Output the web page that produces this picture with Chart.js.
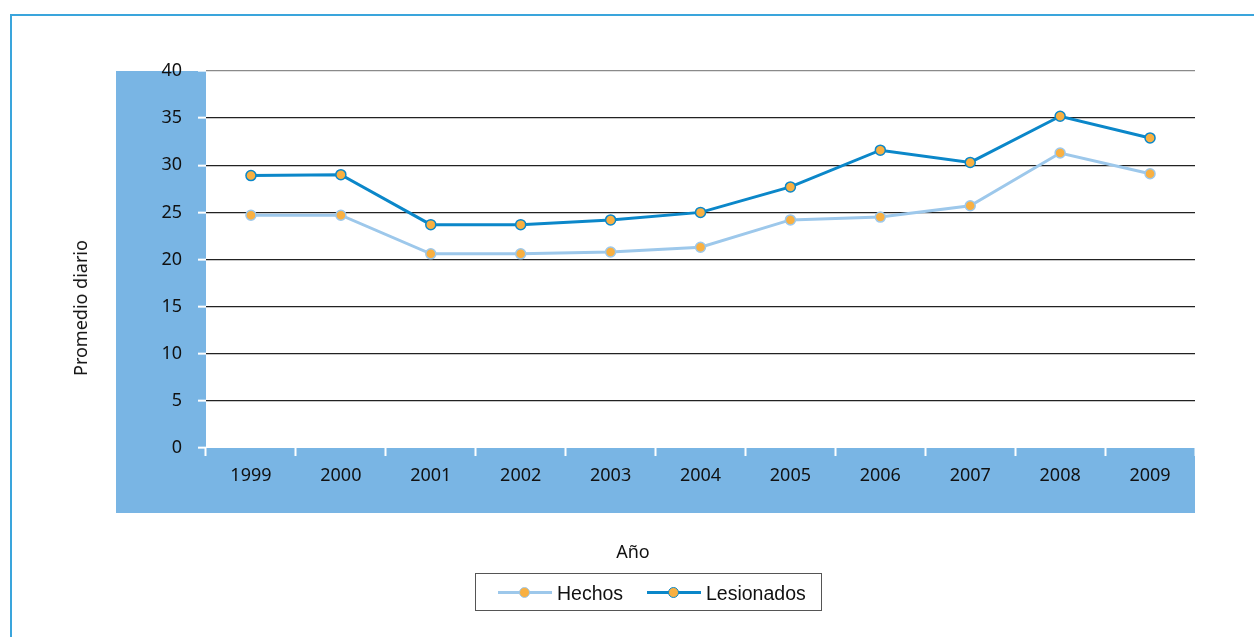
<!DOCTYPE html>
<html>
<head>
<meta charset="utf-8">
<script src="https://cdn.jsdelivr.net/npm/chart.js@4/dist/chart.umd.min.js"></script>
<style>
  body { margin: 0; background: #fff; width: 1254px; height: 637px; overflow: hidden; position: relative; font-family: "Noto Sans", sans-serif; }
  #frame { position: absolute; left: 10px; top: 14px; width: 1400px; height: 800px; border-left: 2px solid #3aa5dc; border-top: 2px solid #3aa5dc; }
  #chartBox { position: absolute; left: 0; top: 0; width: 1254px; height: 637px; }
  .title { position: absolute; color: #111; font-size: 18px; white-space: nowrap; }
  #xTitle { left: 633px; top: 551px; transform: translate(-50%, -50%); }
  #yTitle { left: 80px; top: 308px; transform: translate(-50%, -50%) rotate(-90deg); }
  #legend { position: absolute; left: 475px; top: 573px; width: 345px; height: 36px; border: 1px solid #555; font-family: "Liberation Sans", Arial, sans-serif; font-size: 19.5px; color: #111; }
  .item { position: absolute; top: 0; height: 36px; line-height: 38px; }
  .sym { position: absolute; top: 17px; width: 54px; height: 3px; }
  .dot { position: absolute; left: 21px; top: -4px; width: 9px; height: 9px; border-radius: 50%; background: #f9b041; border: 1px solid; }
  .lab { position: absolute; left: 59px; top: 0; }
</style>
</head>
<body>
<div id="frame"></div>
<div id="chartBox"><canvas id="myChart" width="1254" height="637"></canvas></div>
<div class="title" id="xTitle">Año</div>
<div class="title" id="yTitle">Promedio diario</div>
<div id="legend"></div>
<script>
// data
var years = ["1999", "2000", "2001", "2002", "2003", "2004", "2005", "2006", "2007", "2008", "2009"];
var hechos = [24.7, 24.7, 20.6, 20.6, 20.8, 21.3, 24.2, 24.5, 25.7, 31.3, 29.1];
var lesionados = [28.9, 29.0, 23.7, 23.7, 24.2, 25.0, 27.7, 31.6, 30.3, 35.2, 32.9];
var yTicks = [0, 5, 10, 15, 20, 25, 30, 35, 40];

var hechosColor = "#9dc8eb";
var lesionadosColor = "#0b87c9";
var pointColor = "#f9b041";
var panelColor = "#79b5e4";

Chart.defaults.font.family = '"Noto Sans", sans-serif';

// blue panel behind the axes, white plot area
var panelPlugin = {
  id: "panel",
  beforeDraw: function (chart) {
    var ctx = chart.ctx;
    var a = chart.chartArea;
    ctx.save();
    ctx.fillStyle = panelColor;
    ctx.fillRect(a.left - 90, a.top, a.right - a.left + 90, a.bottom - a.top + 65);
    ctx.fillStyle = "#ffffff";
    ctx.fillRect(a.left, a.top, a.right - a.left, a.bottom - a.top);
    ctx.restore();
  },
};

var config = {
  type: "line",
  data: {
    labels: years,
    datasets: [
      {
        label: "Hechos",
        data: hechos,
        borderColor: hechosColor,
        backgroundColor: pointColor,
        pointBackgroundColor: pointColor,
        pointBorderColor: hechosColor,
        pointBorderWidth: 1.5,
        pointRadius: 5,
        borderWidth: 3,
        tension: 0,
      },
      {
        label: "Lesionados",
        data: lesionados,
        borderColor: lesionadosColor,
        backgroundColor: pointColor,
        pointBackgroundColor: pointColor,
        pointBorderColor: lesionadosColor,
        pointBorderWidth: 1.5,
        pointRadius: 5,
        borderWidth: 3,
        tension: 0,
      },
    ],
  },
  options: {
    responsive: false,
    animation: false,
    layout: { padding: { left: 0, top: 71, right: 59, bottom: 124 } },
    plugins: { legend: { display: false }, tooltip: { enabled: false } },
    scales: {
      x: {
        offset: true,
        border: { display: false },
        grid: {
          display: true,
          offset: true,
          drawOnChartArea: false,
          drawTicks: true,
          tickLength: 8,
          tickColor: "#ffffff",
          tickWidth: 2,
        },
        ticks: { color: "#111", font: { size: 18 }, padding: 9, maxRotation: 0 },
        afterFit: function (scale) {
          scale.height = 65;
        },
      },
      y: {
        min: 0,
        max: 40,
        border: { display: false },
        afterBuildTicks: function (scale) {
          scale.ticks = yTicks.map(function (v) {
            return { value: v };
          });
        },
        grid: {
          color: function (ctx) {
            if (ctx.tick && ctx.tick.value === 0) return "rgba(0,0,0,0)";
            if (ctx.tick && ctx.tick.value === 40) return "#8a8a8a";
            return "#222222";
          },
          lineWidth: 1.3,
          tickLength: 8,
          tickColor: "#ffffff",
          tickWidth: 2,
        },
        ticks: { color: "#111", font: { size: 18 }, padding: 16 },
        afterFit: function (scale) {
          scale.width = 206;
        },
      },
    },
  },
  plugins: [panelPlugin],
};

var myChart = new Chart(document.getElementById("myChart"), config);

// legend drawn as html
var legendItems = [
  { name: "Hechos", color: hechosColor, left: 22 },
  { name: "Lesionados", color: lesionadosColor, left: 171 },
];
var legendBox = document.getElementById("legend");
for (var i = 0; i < legendItems.length; i++) {
  var item = document.createElement("div");
  item.className = "item";
  item.style.left = legendItems[i].left + "px";
  var sym = document.createElement("div");
  sym.className = "sym";
  sym.style.background = legendItems[i].color;
  var dot = document.createElement("div");
  dot.className = "dot";
  dot.style.borderColor = legendItems[i].color;
  sym.appendChild(dot);
  var lab = document.createElement("span");
  lab.className = "lab";
  lab.innerHTML = legendItems[i].name;
  item.appendChild(sym);
  item.appendChild(lab);
  legendBox.appendChild(item);
}
</script>
</body>
</html>
